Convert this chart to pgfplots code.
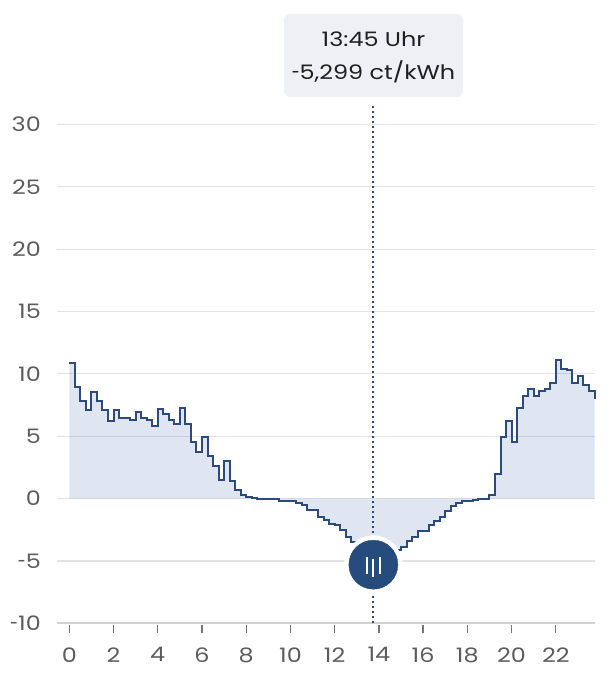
\documentclass[border=0pt]{standalone}
\usepackage{graphicx}
\usepackage{pgfplots}
\pgfplotsset{compat=1.18}
\usepackage{pgfplotstable}
\usepackage{fontspec}
\setmainfont{Poppins}[FakeStretch=1.2]
\newcommand{\hy}{\scalebox{0.6}[1]{-}}
\definecolor{linecol}{HTML}{2A4B7C}
\definecolor{fillbase}{HTML}{2A58A2}
\definecolor{handlecol}{HTML}{264B7D}
\definecolor{gridcol}{HTML}{E2E2E2}
\definecolor{axiscol}{HTML}{D2D2D2}
\definecolor{tickcol}{HTML}{5C5C5C}
\definecolor{tipbg}{HTML}{EEF0F5}
\definecolor{tiptext}{HTML}{1F1F1F}
\pgfplotstableread{
x y
0.00 10.9
0.25 8.93
0.50 7.86
0.75 7.14
1.00 8.58
1.25 7.80
1.50 7.14
1.75 6.20
2.00 7.09
2.25 6.47
2.50 6.47
2.75 6.28
3.00 6.93
3.25 6.47
3.50 6.28
3.75 5.80
4.00 7.19
4.25 6.80
4.50 6.28
4.75 6.00
5.00 7.25
5.25 6.00
5.50 4.50
5.75 3.70
6.00 4.95
6.25 3.45
6.50 2.65
6.75 1.52
7.00 3.05
7.25 1.44
7.50 0.72
7.75 0.30
8.00 0.13
8.25 0.03
8.50 -0.01
8.75 -0.02
9.00 -0.03
9.25 -0.05
9.50 -0.19
9.75 -0.19
10.00 -0.20
10.25 -0.32
10.50 -0.48
10.75 -0.90
11.00 -0.94
11.25 -1.47
11.50 -1.74
11.75 -2.04
12.00 -2.08
12.25 -2.54
12.50 -3.08
12.75 -3.48
13.00 -3.95
13.25 -4.45
13.50 -4.90
13.75 -5.299
14.00 -5.10
14.25 -4.75
14.50 -4.40
14.75 -4.10
15.00 -3.85
15.25 -3.43
15.50 -3.08
15.75 -2.62
16.00 -2.60
16.25 -2.09
16.50 -1.82
16.75 -1.45
17.00 -0.98
17.25 -0.58
17.50 -0.35
17.75 -0.19
18.00 -0.17
18.25 -0.13
18.50 -0.06
18.75 -0.04
19.00 0.27
19.25 2.00
19.50 4.95
19.75 6.20
20.00 4.55
20.25 7.28
20.50 8.20
20.75 8.80
21.00 8.20
21.25 8.60
21.50 8.80
21.75 9.30
22.00 11.08
22.25 10.36
22.50 10.30
22.75 9.30
23.00 9.80
23.25 9.08
23.50 8.60
23.75 7.95
}\pricedata
\pgfplotstableread{
x y
13.75 -5.299
}\seldata
\begin{document}
\begin{tikzpicture}[x=1bp,y=1bp]
\useasboundingbox (0,0) rectangle (610,680);
\begin{axis}[
  at={(56.7bp,56.7bp)}, anchor=south west,
  scale only axis, width=537.8bp, height=498.8bp,
  xmin=-0.57, xmax=23.75, ymin=-10, ymax=30,
  clip=false,
  axis x line*=bottom, axis y line*=left,
  x axis line style={draw=axiscol, line width=1.8bp},
  y axis line style={draw=none},
  ytick={-10,-5,0,5,10,15,20,25,30},
  yticklabels={\hy10,\hy5,0,5,10,15,20,25,30},
  xtick={0,2,...,22},
  xticklabels={0,2,4,6,8,10,12,14,16,18,20,22},
  ymajorgrids,
  grid style={draw=gridcol, line width=1.2bp},
  tick align=outside,
  major tick length=8bp,
  xtick style={draw=tickcol!85, line width=1.3bp, yshift=-1.7bp},
  ytick style={draw=none},
  ticklabel style={font=\fontsize{20}{21}\selectfont, text=tickcol},
  yticklabel style={inner sep=0pt, anchor=east, xshift=-7.7bp},
  xticklabel style={inner sep=0pt, anchor=north, yshift=-16bp},
]
\addplot[const plot, draw=none, fill=fillbase, fill opacity=0.15] table[x=x,y=y] {\pricedata} \closedcycle;
\addplot[const plot, draw=linecol, line width=2bp, line join=miter] table[x=x,y=y] {\pricedata};
\addplot[draw=linecol, line width=1.9bp, dash pattern=on 2.5bp off 2.5bp] coordinates {(13.75,-10) (13.75,31.6)};
\addplot[only marks, mark=*, color=white, mark size=29bp] table[x=x,y=y] {\seldata};
\addplot[only marks, mark=*, color=handlecol, mark size=24.5bp] table[x=x,y=y] {\seldata};
\addplot[only marks, mark=|, color=white, mark size=8.5bp, mark options={line width=1.8bp, xshift=-6.3bp, yshift=-0.5bp}] table[x=x,y=y] {\seldata};
\addplot[only marks, mark=|, color=white, mark size=9bp, mark options={line width=1.8bp, yshift=-3bp}] table[x=x,y=y] {\seldata};
\addplot[only marks, mark=|, color=white, mark size=8.5bp, mark options={line width=1.8bp, xshift=6.3bp, yshift=-0.5bp}] table[x=x,y=y] {\seldata};
\end{axis}
\fill[tipbg, rounded corners=6bp] (284,583) rectangle (463,666);
\node[font=\fontsize{20}{21}\selectfont, text=tiptext, inner sep=0pt] at (373.5,641) {13:45 Uhr};
\node[font=\fontsize{20}{21}\selectfont, text=tiptext, inner sep=0pt] at (373.5,608) {\hy5,299 ct/kWh};
\end{tikzpicture}
\end{document}
